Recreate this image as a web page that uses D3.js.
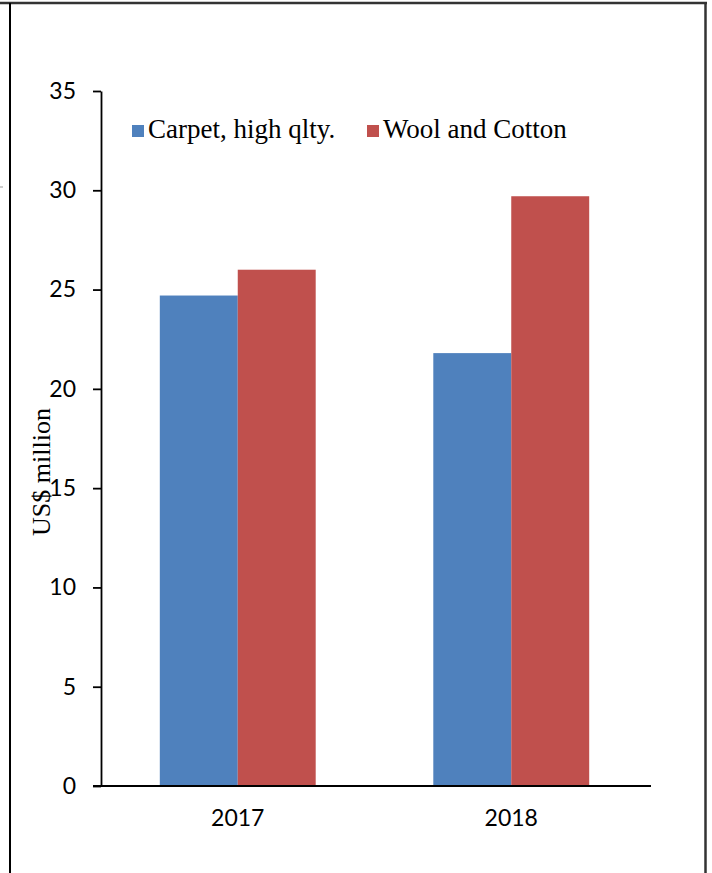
<!DOCTYPE html>
<html>
<head>
<meta charset="utf-8">
<script src="https://cdn.jsdelivr.net/npm/d3@7"></script>
<style>
  html, body { margin: 0; padding: 0; background: #fff; }
  svg { display: block; }
</style>
</head>
<body>
<svg id="chart" width="712" height="873"></svg>
<script>
// ---- data ----
const categories = ["2017", "2018"];
const seriesNames = ["Carpet, high qlty.", "Wool and Cotton"];
const carpetValues = [24.7, 21.8];
const woolCottonValues = [26.0, 29.7];
const yTicks = [0, 5, 10, 15, 20, 25, 30, 35];
const yTitle = "US$ million";
const colors = ["#4F81BD", "#C0504D"];

const seriesValues = [carpetValues, woolCottonValues];
const table = categories.map((c, i) => ({
  cat: c,
  vals: seriesNames.map((s, j) => ({ series: s, idx: j, value: seriesValues[j][i] }))
}));

const svg = d3.select("#chart");
const W = 712, H = 873;

// frame
svg.append("line").attr("x1", 0).attr("x2", 707).attr("y1", 3).attr("y2", 3)
  .attr("stroke", "#333").attr("stroke-width", 2.5);
svg.append("line").attr("x1", 10).attr("x2", 10).attr("y1", 3).attr("y2", H)
  .attr("stroke", "#000").attr("stroke-width", 2);
svg.append("line").attr("x1", 705.5).attr("x2", 705.5).attr("y1", 3).attr("y2", H)
  .attr("stroke", "#333").attr("stroke-width", 2.5);
svg.append("line").attr("x1", 0).attr("x2", 3).attr("y1", 187).attr("y2", 187)
  .attr("stroke", "#999").attr("stroke-width", 1);

// scales
const plot = { left: 101, right: 648, top: 91, bottom: 786 };
const x = d3.scaleBand().domain(categories).range([plot.left, plot.right])
  .paddingInner(0.43).paddingOuter(0.215);
const xs = d3.scaleBand().domain(d3.range(seriesNames.length)).range([0, x.bandwidth()]);
const y = d3.scaleLinear().domain([0, 35]).range([plot.bottom, plot.top]);

// bars
const groups = svg.append("g").selectAll("g").data(table).join("g")
  .attr("transform", d => `translate(${x(d.cat)},0)`);
groups.selectAll("rect").data(d => d.vals).join("rect")
  .attr("x", d => xs(d.idx))
  .attr("width", xs.bandwidth())
  .attr("y", d => y(d.value))
  .attr("height", d => y(0) - y(d.value))
  .attr("fill", d => colors[d.idx]);

// y axis
const yAxis = svg.append("g").attr("transform", `translate(${plot.left},0)`)
  .call(d3.axisLeft(y).tickValues(yTicks).tickSize(8).tickPadding(17).tickSizeOuter(0));
yAxis.select(".domain").attr("stroke", "#000").attr("stroke-width", 1.8);
yAxis.selectAll(".tick line").attr("stroke", "#000").attr("stroke-width", 1.8);
yAxis.selectAll(".tick text").attr("font-family", "Lato, 'Open Sans', sans-serif")
  .attr("font-size", 23).attr("fill", "#000");

// x axis
const xAxis = svg.append("g").attr("transform", `translate(0,${plot.bottom})`)
  .call(d3.axisBottom(x).tickSize(0).tickPadding(24).tickSizeOuter(0));
xAxis.select(".domain").remove();
svg.append("line").attr("x1", plot.left - 8).attr("x2", plot.right + 3)
  .attr("y1", plot.bottom).attr("y2", plot.bottom)
  .attr("stroke", "#000").attr("stroke-width", 1.8);
xAxis.selectAll(".tick text").attr("font-family", "Lato, 'Open Sans', sans-serif")
  .attr("font-size", 23).attr("fill", "#000");

// y title
svg.append("text")
  .attr("transform", "translate(50,472) rotate(-90)")
  .attr("text-anchor", "middle")
  .attr("font-family", "'Liberation Serif', 'Times New Roman', serif")
  .attr("font-size", 26).attr("fill", "#000")
  .text(yTitle);

// legend
const legendX = [132, 367];
const legend = svg.append("g").selectAll("g").data(seriesNames).join("g")
  .attr("transform", (d, i) => `translate(${legendX[i]},125)`);
legend.append("rect").attr("width", 12).attr("height", 12)
  .attr("fill", (d, i) => colors[i]);
legend.append("text").attr("x", 16).attr("y", 12.5)
  .attr("font-family", "'Liberation Serif', 'Times New Roman', serif")
  .attr("font-size", 27).attr("fill", "#000")
  .text(d => d);
</script>
</body>
</html>
